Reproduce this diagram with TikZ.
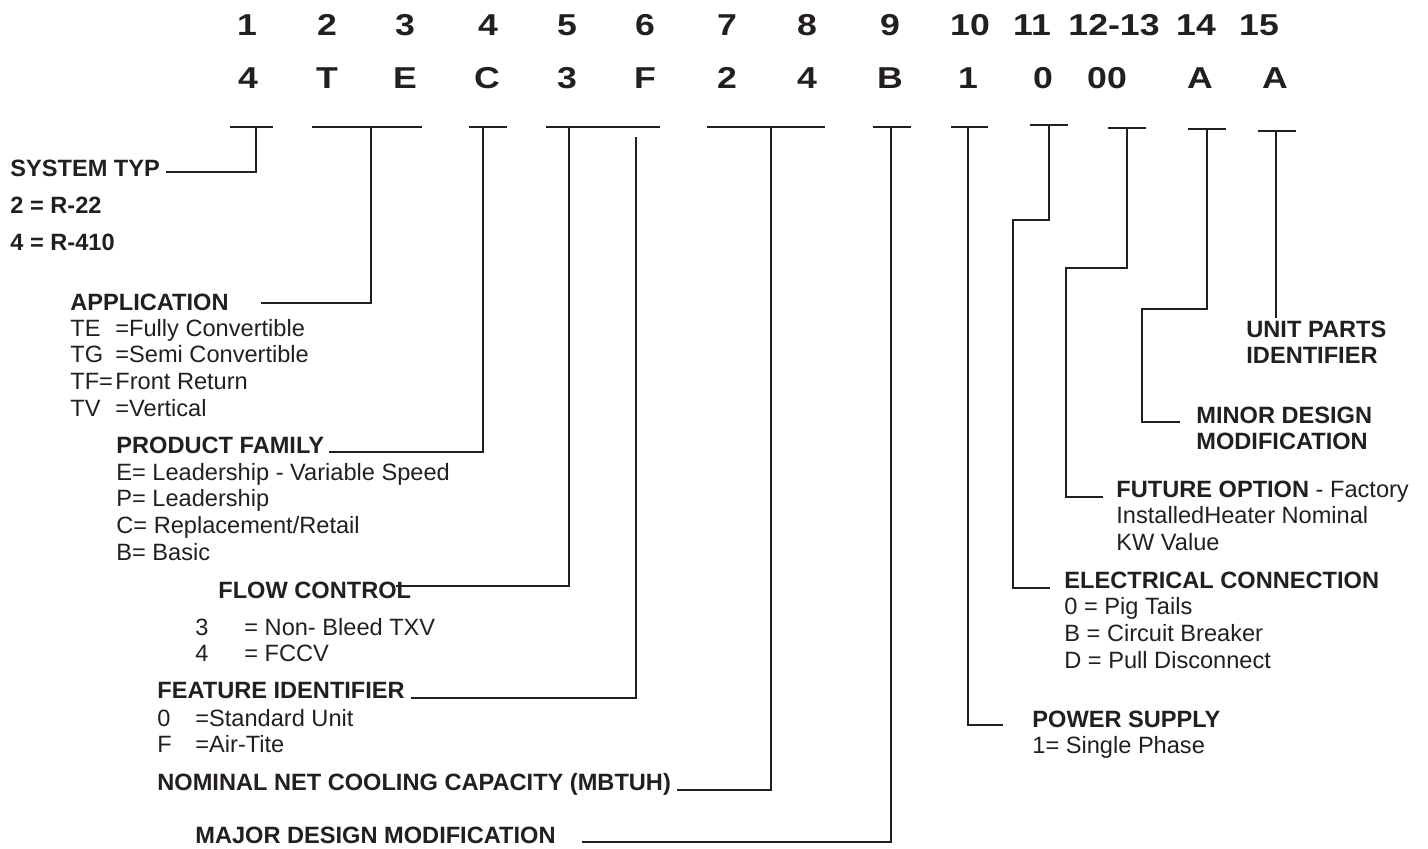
\documentclass[tikz,border=0pt]{standalone}
\usepackage{fontspec}
\setmainfont{Liberation Sans}
\newfontfamily\hdrfont{Liberation Sans}[FakeStretch=1.18]
\definecolor{ink}{HTML}{231F20}
\newcommand\bodysize{\fontsize{11.8}{13.4}\selectfont}
\newcommand\keycol[2]{\makebox[#1][l]{#2}}

\begin{document}
\begin{tikzpicture}[
    x=0.5pt, y=-0.5pt,
    color=ink,
    fieldno/.style={anchor=base, inner sep=0pt, font=\hdrfont\bfseries\fontsize{15.1}{18}\selectfont},
    lbl/.style={anchor=base west, inner sep=0pt, font=\bodysize},
    head/.style={anchor=base west, inner sep=0pt, font=\bodysize\bfseries},
    bar/.style={line width=1pt},
    lead/.style={line width=0.8pt}
]
    \useasboundingbox (0,0) rectangle (1428,848);

    % digit positions
    \node[fieldno] (no1) at (247,35) {1};
    \node[fieldno] (no2) at (327,35) {2};
    \node[fieldno] (no3) at (405,35) {3};
    \node[fieldno] (no4) at (488,35) {4};
    \node[fieldno] (no5) at (567,35) {5};
    \node[fieldno] (no6) at (645,35) {6};
    \node[fieldno] (no7) at (727,35) {7};
    \node[fieldno] (no8) at (807,35) {8};
    \node[fieldno] (no9) at (890,35) {9};
    \node[fieldno] (no10) at (970,35) {10};
    \node[fieldno] (no11) at (1032,35) {11};
    \node[fieldno] (no12) at (1114,35) {12-13};
    \node[fieldno] (no14) at (1196,35) {14};
    \node[fieldno] (no15) at (1259,35) {15};

    % model number
    \node[fieldno] (ch1) at (248,88) {4};
    \node[fieldno] (ch2) at (327,88) {T};
    \node[fieldno] (ch3) at (405,88) {E};
    \node[fieldno] (ch4) at (487,88) {C};
    \node[fieldno] (ch5) at (567,88) {3};
    \node[fieldno] (ch6) at (645,88) {F};
    \node[fieldno] (ch7) at (727,88) {2};
    \node[fieldno] (ch8) at (807,88) {4};
    \node[fieldno] (ch9) at (890,88) {B};
    \node[fieldno] (ch10) at (968,88) {1};
    \node[fieldno] (ch11) at (1043,88) {0};
    \node[fieldno] (ch12) at (1107,88) {00};
    \node[fieldno] (ch14) at (1200,88) {A};
    \node[fieldno] (ch15) at (1275,88) {A};

    \draw[bar] (230,127) -- (273,127);
    \draw[bar] (312,127) -- (422,127);
    \draw[bar] (469,127) -- (507,127);
    \draw[bar] (546,127) -- (660,127);
    \draw[bar] (707,127) -- (825,127);
    \draw[bar] (873,127) -- (911,127);
    \draw[bar] (951,127) -- (988,127);
    \draw[bar] (1030,125) -- (1068,125);
    \draw[bar] (1108,128) -- (1146,128);
    \draw[bar] (1188,129) -- (1226,129);
    \draw[bar] (1258,131) -- (1296,131);

    \coordinate (t1) at (256,127);
    \coordinate (t2) at (371,127);
    \coordinate (t4) at (483,127);
    \coordinate (t5) at (569,127);
    \coordinate (t6) at (636,137);
    \coordinate (t7) at (771,127);
    \coordinate (t9) at (891,127);
    \coordinate (t10) at (968,127);
    \coordinate (t11) at (1049,125);
    \coordinate (t12) at (1127,128);
    \coordinate (t14) at (1207,129);
    \coordinate (t15) at (1276,131);

    % left hand labels
    \node[head] (systyp) at (10,176) {SYSTEM TYP};
    \node[lbl, font=\bfseries\fontsize{11.8}{18.75}\selectfont] (systypv) at (10,213)
        {\begin{tabular}[t]{@{}l@{}}2 = R-22\\4 = R-410\end{tabular}};
    \node[head] (app) at (70,310) {APPLICATION};
    \node[lbl] (appv) at (70,336) {\begin{tabular}[t]{@{}l@{}}
        \keycol{22.5pt}{TE}=Fully Convertible\\ \keycol{22.5pt}{TG}=Semi Convertible\\
        \keycol{22.5pt}{TF=}Front Return\\ \keycol{22.5pt}{TV}=Vertical\end{tabular}};
    \node[head] (prodfam) at (116,453) {PRODUCT FAMILY};
    \node[lbl] (prodfamv) at (116,480) {\begin{tabular}[t]{@{}l@{}}
        E= Leadership - Variable Speed\\ P= Leadership\\ C= Replacement/Retail\\ B= Basic\end{tabular}};
    \node[head] (flow) at (218,598) {FLOW CONTROL};
    \node[lbl] (flowv) at (195,635) {\begin{tabular}[t]{@{}l@{}}
        \keycol{24.5pt}{3}= Non- Bleed TXV\\ \keycol{24.5pt}{4}= FCCV\end{tabular}};
    \node[head] (feat) at (157,698) {FEATURE IDENTIFIER};
    \node[lbl] (featv) at (157,726) {\begin{tabular}[t]{@{}l@{}}
        \keycol{19pt}{0}=Standard Unit\\ \keycol{19pt}{F}=Air-Tite\end{tabular}};
    \node[head] (nominal) at (157,790) {NOMINAL NET COOLING CAPACITY (MBTUH)};
    \node[head] (major) at (195,843) {MAJOR DESIGN MODIFICATION};

    % right hand labels
    \node[head] (unit) at (1246,337) {\begin{tabular}[t]{@{}l@{}}UNIT PARTS\\IDENTIFIER\end{tabular}};
    \node[head] (minor) at (1196,423) {\begin{tabular}[t]{@{}l@{}}MINOR DESIGN\\MODIFICATION\end{tabular}};
    \node[lbl] (future) at (1116,497) {\begin{tabular}[t]{@{}l@{}}
        \textbf{FUTURE OPTION} - Factory\\ InstalledHeater Nominal\\ KW Value\end{tabular}};
    \node[lbl] (elec) at (1064,588) {\begin{tabular}[t]{@{}l@{}}
        \textbf{ELECTRICAL CONNECTION}\\ 0 = Pig Tails\\ B = Circuit Breaker\\ D = Pull Disconnect\end{tabular}};
    \node[lbl] (power) at (1032,727) {\begin{tabular}[t]{@{}l@{}}
        \textbf{POWER SUPPLY}\\ 1= Single Phase\end{tabular}};

    \draw[lead] (t1) |- ([xshift=3pt,yshift=2pt]systyp.base east);
    \draw[lead] (t2) |- ([xshift=16pt,yshift=3.5pt]app.base east);
    \draw[lead] (t4) |- ([xshift=2.5pt,yshift=0.5pt]prodfam.base east);
    \draw[lead] (t5) |- ([xshift=-8pt,yshift=6pt]flow.base east);
    \draw[lead] (t6) |- ([xshift=3pt]feat.base east);
    \draw[lead] (t7) |- ([xshift=3pt]nominal.base east);
    \draw[lead] (t9) |- ([xshift=13pt,yshift=0.5pt]major.base east);
    \draw[lead] (t10) |- ([xshift=-14.5pt,yshift=1pt]power.base west);
    \draw[lead] (t11) -- ++(0,95) -- ++(-36,0) |- ([xshift=-7pt]elec.base west);
    \draw[lead] (t12) -- ++(0,140) -- ++(-61,0) |- ([xshift=-6.5pt]future.base west);
    \draw[lead] (t14) -- ++(0,180) -- ++(-65,0) |- ([xshift=-8pt,yshift=0.5pt]minor.base west);
    \draw[lead] (t15) -- (t15 |- unit.north);
\end{tikzpicture}
\end{document}
